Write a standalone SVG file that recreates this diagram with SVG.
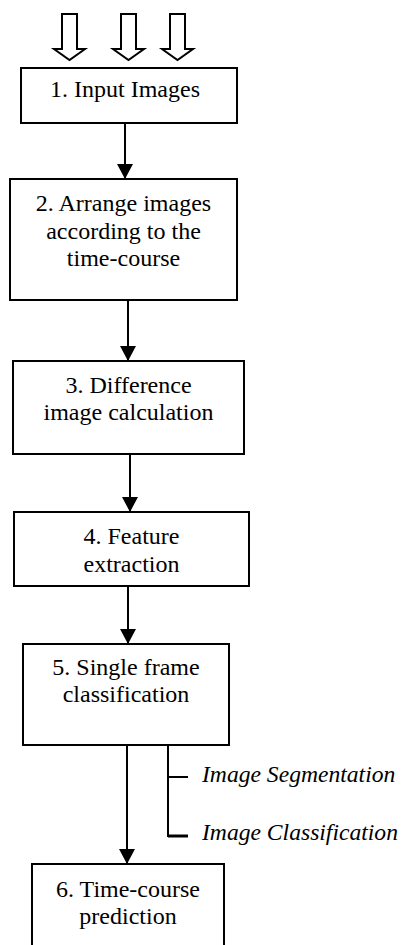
<svg xmlns="http://www.w3.org/2000/svg" width="401" height="945" viewBox="0 0 401 945">
<defs>
<style>
.box{fill:#fff;stroke:#000;stroke-width:2}
.t{font-family:"Liberation Serif","Times New Roman",serif;font-size:24px;fill:#000;text-anchor:middle}
.ti{font-family:"Liberation Serif","Times New Roman",serif;font-size:23.6px;font-style:italic;fill:#000}
.c{stroke:#000;stroke-width:2;fill:none}
.hollow{fill:#fff;stroke:#000;stroke-width:2;stroke-linejoin:miter}
</style>
<marker id="ah" markerWidth="15" markerHeight="16" refX="15" refY="8" orient="auto" markerUnits="userSpaceOnUse">
<path d="M0,0 L15,8 L0,16 Z" fill="#000"/>
</marker>
</defs>
<rect width="401" height="945" fill="#fff"/>
<g id="inputs">
<path class="hollow" d="M62,14 H77 V49 H85 L69.5,60 L54,49 H62 Z"/>
<path class="hollow" d="M121,14 H136 V49 H144 L128.5,60 L113,49 H121 Z"/>
<path class="hollow" d="M170,14 H185 V49 H193 L177.5,60 L162,49 H170 Z"/>
</g>
<g id="connectors">
<line class="c" x1="125" y1="123" x2="125" y2="179" marker-end="url(#ah)"/>
<line class="c" x1="128" y1="300" x2="128" y2="361" marker-end="url(#ah)"/>
<line class="c" x1="130" y1="454" x2="130" y2="512" marker-end="url(#ah)"/>
<line class="c" x1="128" y1="586" x2="128" y2="644" marker-end="url(#ah)"/>
<line class="c" x1="127" y1="745" x2="127" y2="864" marker-end="url(#ah)"/>
<path class="c" d="M168,745 V836 H188"/>
<line class="c" x1="168" y1="777" x2="188" y2="777"/>
<line x1="168" y1="836" x2="188" y2="836" stroke="#000" stroke-width="3"/>
</g>
<g id="n1">
<rect class="box" x="21" y="68" width="216" height="55"/>
<text class="t" x="125" y="97">1. Input Images</text>
</g>
<g id="n2">
<rect class="box" x="10" y="179" width="227" height="121"/>
<text class="t" x="123.5" y="211">2. Arrange images</text>
<text class="t" x="123.5" y="238.5">according to the</text>
<text class="t" x="123.5" y="266">time-course</text>
</g>
<g id="n3">
<rect class="box" x="13" y="361" width="231" height="93"/>
<text class="t" x="128.5" y="393">3. Difference</text>
<text class="t" x="128.5" y="420">image calculation</text>
</g>
<g id="n4">
<rect class="box" x="14" y="512" width="235" height="74"/>
<text class="t" x="131.5" y="544">4. Feature</text>
<text class="t" x="131.5" y="572">extraction</text>
</g>
<g id="n5">
<rect class="box" x="23" y="644" width="206" height="101"/>
<text class="t" x="126" y="675">5. Single frame</text>
<text class="t" x="126" y="702">classification</text>
</g>
<g id="n6">
<rect class="box" x="32" y="864" width="192" height="100"/>
<text class="t" x="128" y="897">6. Time-course</text>
<text class="t" x="128" y="924">prediction</text>
</g>
<g id="labels">
<text class="ti" x="202" y="782">Image Segmentation</text>
<text class="ti" x="202" y="840">Image Classification</text>
</g>
</svg>
